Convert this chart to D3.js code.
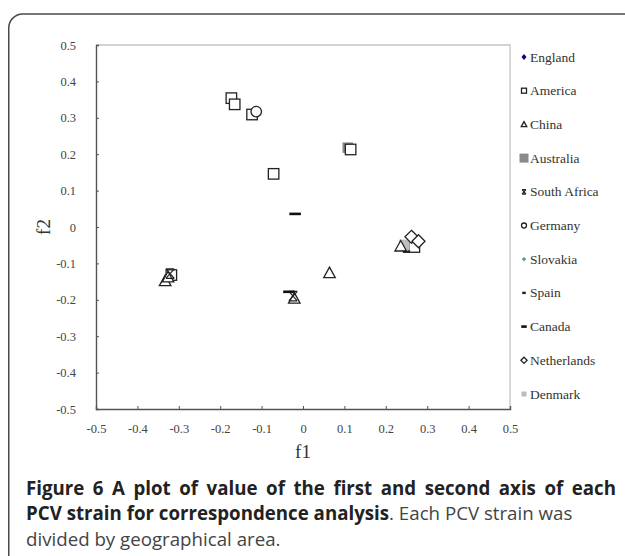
<!DOCTYPE html>
<html><head><meta charset="utf-8">
<script src="https://cdn.jsdelivr.net/npm/d3@7"></script>
<style>body{margin:0;background:#fff}svg{display:block}</style>
</head><body>
<script>
// ---- data ----
const xTicks = [-0.5,-0.4,-0.3,-0.2,-0.1,0,0.1,0.2,0.3,0.4,0.5];
const yTicks = [-0.5,-0.4,-0.3,-0.2,-0.1,0,0.1,0.2,0.3,0.4,0.5];
const legendNames = ["England","America","China","Australia","South Africa","Germany","Slovakia","Spain","Canada","Netherlands","Denmark"];
const england = [];
const america = [[-0.173,0.354],[-0.165,0.337],[-0.123,0.309],[-0.071,0.146],[0.115,0.213],[0.269,-0.055],[-0.318,-0.132]];
const china = [[0.064,-0.126],[-0.021,-0.196],[-0.333,-0.148],[-0.326,-0.138],[0.236,-0.053]];
const australia = [[0.108,0.218]];
const southAfrica = [[-0.024,-0.19],[-0.321,-0.128]];
const germany = [[-0.113,0.317]];
const slovakia = [];
const spain = [[0.25,-0.068]];
const canada = [[-0.019,0.036],[-0.034,-0.178]];
const netherlands = [[0.262,-0.027],[0.279,-0.039]];
const denmark = [[0.245,-0.049]];

const W = 625, H = 556;
const svg = d3.select("body").append("svg").attr("width", W).attr("height", H);

// card frame
svg.append("path")
  .attr("d", "M8.75,556 V28 A14,14 0 0 1 22.75,14 H626")
  .attr("fill","none").attr("stroke","#4a4a4a").attr("stroke-width",1.5);

const x = d3.scaleLinear().domain([-0.5,0.5]).range([96,510]);
const y = d3.scaleLinear().domain([-0.5,0.5]).range([409,45]);
const serif = "'Liberation Serif','DejaVu Serif',serif";
const fmt = d => String(d);

// plot box: top/right light
svg.append("path").attr("d", `M${x(-0.5)},${y(0.5)} H${x(0.5)} V${y(-0.5)}`)
  .attr("fill","none").attr("stroke","#c4c4c4").attr("stroke-width",1.3);

const xa = svg.append("g").attr("transform",`translate(0,${y(-0.5)})`)
  .call(d3.axisBottom(x).tickValues(xTicks).tickSize(-3).tickPadding(15).tickFormat(fmt));
const ya = svg.append("g").attr("transform",`translate(${x(-0.5)},0)`)
  .call(d3.axisLeft(y).tickValues(yTicks).tickSize(-3).tickPadding(20).tickFormat(fmt));
[xa,ya].forEach(a=>{
  a.select(".domain").attr("stroke","#555").attr("stroke-width",1.4);
  a.selectAll(".tick line").attr("stroke","#555");
  a.selectAll(".tick text").attr("font-family",serif).attr("font-size",12.5).attr("fill","#444");
});

svg.append("text").attr("x",303).attr("y",458).attr("text-anchor","middle")
  .attr("font-family",serif).attr("font-size",19).attr("fill","#333").text("f1");
svg.append("text").attr("transform","translate(50,227) rotate(-90)").attr("text-anchor","middle")
  .attr("font-family",serif).attr("font-size",19).attr("fill","#333").text("f2");

// marker drawers
function sq(g,s,fill,stroke){g.append("rect").attr("x",-s/2).attr("y",-s/2).attr("width",s).attr("height",s).attr("fill",fill).attr("stroke",stroke).attr("stroke-width",stroke==="none"?0:1.3);}
const markers = {
  England:(g,s)=>g.append("path").attr("d",`M0,${-s*0.6}L${s*0.5},0L0,${s*0.6}L${-s*0.5},0Z`).attr("fill","#0a0a80"),
  America:(g,s)=>sq(g,s,"#fff","#222"),
  China:(g,s)=>g.append("path").attr("d",`M0,${-s*0.55}L${s*0.55},${s*0.45}L${-s*0.55},${s*0.45}Z`).attr("fill","#fff").attr("stroke","#222").attr("stroke-width",1.3),
  Australia:(g,s)=>sq(g,s,"#8a8a8a","none"),
  "South Africa":(g,s)=>g.append("path").attr("d",`M${-s*0.4},${-s*0.45}L${s*0.4},${s*0.45}M${s*0.4},${-s*0.45}L${-s*0.4},${s*0.45}M${-s*0.4},${-s*0.45}H${s*0.4}M${-s*0.4},${s*0.45}H${s*0.4}`).attr("stroke","#222").attr("stroke-width",1.2).attr("fill","none"),
  Germany:(g,s)=>g.append("circle").attr("r",s*0.5).attr("fill","#fff").attr("stroke","#222").attr("stroke-width",1.3),
  Slovakia:(g,s)=>g.append("path").attr("d",`M${-s*0.4},0H${s*0.4}M0,${-s*0.4}V${s*0.4}`).attr("stroke","#2a8a8a").attr("stroke-width",1.2),
  Spain:(g,s)=>g.append("rect").attr("x",-s*0.35).attr("y",-1.2).attr("width",s*0.7).attr("height",2.4).attr("fill","#222"),
  Canada:(g,s)=>g.append("rect").attr("x",-s*0.55).attr("y",-1.3).attr("width",s*1.1).attr("height",2.6).attr("fill","#111"),
  Netherlands:(g,s)=>g.append("path").attr("d",`M0,${-s*0.62}L${s*0.62},0L0,${s*0.62}L${-s*0.62},0Z`).attr("fill","#fff").attr("stroke","#222").attr("stroke-width",1.3),
  Denmark:(g,s)=>sq(g,s,"#bdbdbd","none")
};
const seriesData = [["Australia",australia],["England",england],["America",america],["Denmark",denmark],["China",china],["South Africa",southAfrica],["Germany",germany],["Slovakia",slovakia],["Spain",spain],["Canada",canada],["Netherlands",netherlands]];
const pts = svg.append("g");
seriesData.forEach(([name,arr])=>{
  arr.forEach(d=>{
    const g = pts.append("g").attr("transform",`translate(${x(d[0])},${y(d[1])})`);
    markers[name](g,10.5);
  });
});

// legend
const leg = svg.append("g");
const ly = d3.scalePoint().domain(legendNames).range([57,394]);
legendNames.forEach(n=>{
  const g = leg.append("g").attr("transform",`translate(524,${ly(n)})`);
  markers[n](g.append("g"), n==="Australia"?9:5);
  g.append("text").attr("x",6).attr("y",4.5).attr("font-family",serif).attr("font-size",13.5).attr("fill","#333").text(n);
});

// caption
const sans = "'Open Sans','Noto Sans',sans-serif";
const cap = svg.append("g").attr("font-family",sans).attr("font-size",18.7).attr("fill","#222");
const line1 = "Figure 6 A plot of value of the first and second axis of each";
const t1 = cap.append("text").attr("x",26).attr("y",495).attr("font-weight","bold").text(line1);
// justify first line to the caption width
const w1 = t1.node().getComputedTextLength();
const spaces = line1.split(" ").length - 1;
t1.style("word-spacing", ((590 - w1) / spaces) + "px");
const t2 = cap.append("text").attr("x",26).attr("y",520);
t2.append("tspan").attr("font-weight","bold").text("PCV strain for correspondence analysis");
t2.append("tspan").attr("fill","#444").text(". Each PCV strain was");
cap.append("text").attr("x",26).attr("y",546).attr("fill","#444").text("divided by geographical area.");
</script>
</body></html>
